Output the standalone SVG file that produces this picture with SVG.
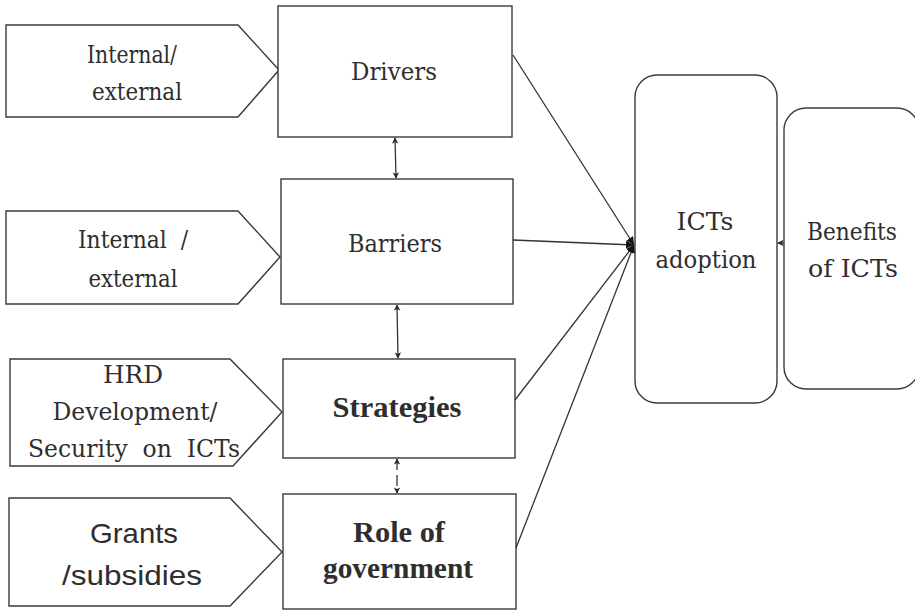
<svg xmlns="http://www.w3.org/2000/svg" width="915" height="611" viewBox="0 0 915 611">
  <style>
    .shape { fill: #ffffff; stroke: #3a3a3a; stroke-width: 1.4; }
    .link { fill: none; stroke: #333333; stroke-width: 1.3; }
    text { fill: #2e2e2e; text-anchor: middle; }
    .old { font-family: "DejaVu Serif", serif; font-size: 25px; }
    .roman { font-family: "DejaVu Serif", serif; font-size: 25px; }
    .heavy { font-family: "Liberation Serif", "Times New Roman", serif; font-weight: bold; font-size: 30px; }
    .plain { font-family: "Liberation Sans", Arial, sans-serif; font-size: 28px; }
  </style>
  <defs>
    <marker id="head" viewBox="0 0 10 10" refX="10" refY="5" markerWidth="8" markerHeight="8" orient="auto-start-reverse" markerUnits="userSpaceOnUse">
      <path d="M0,0 L10,5 L0,10 z" fill="#111"/>
    </marker>
    <marker id="tip" viewBox="0 0 10 10" refX="9" refY="5" markerWidth="8" markerHeight="8" orient="auto-start-reverse" markerUnits="userSpaceOnUse">
      <path d="M2,1 L10,5 L2,9 L4,5 z" fill="#2a2a2a"/>
    </marker>
  </defs>

  <rect width="915" height="611" fill="#ffffff"/>

  <!-- factor labels (pentagon tags on the left) -->
  <g id="tag-drivers">
    <polygon class="shape" points="6,25 238,25 279,70 238,117 6,117"/>
    <text class="old" x="132" y="63" textLength="90" lengthAdjust="spacingAndGlyphs">Internal/</text>
    <text class="old" x="137" y="100" textLength="90" lengthAdjust="spacingAndGlyphs">external</text>
  </g>
  <g id="tag-barriers">
    <polygon class="shape" points="6,211 238,211 280,257 238,304 6,304"/>
    <text class="old" x="133" y="248" textLength="110" lengthAdjust="spacingAndGlyphs" xml:space="preserve">Internal  /</text>
    <text class="old" x="133" y="287" textLength="89" lengthAdjust="spacingAndGlyphs">external</text>
  </g>
  <g id="tag-strategies">
    <polygon class="shape" points="10,359 230,359 282,412 233,466 10,466"/>
    <text class="roman" x="133" y="383" textLength="60" lengthAdjust="spacingAndGlyphs">HRD</text>
    <text class="roman" x="135" y="420" textLength="165" lengthAdjust="spacingAndGlyphs">Development/</text>
    <text class="roman" x="134" y="457" textLength="212" lengthAdjust="spacingAndGlyphs" xml:space="preserve">Security  on  ICTs</text>
  </g>
  <g id="tag-government">
    <polygon class="shape" points="9,498 230,498 282,552 230,606 9,606"/>
    <text class="plain" x="134" y="543" textLength="88" lengthAdjust="spacingAndGlyphs">Grants</text>
    <text class="plain" x="132" y="585" textLength="140" lengthAdjust="spacingAndGlyphs">/subsidies</text>
  </g>

  <!-- factor boxes -->
  <g id="drivers">
    <rect class="shape" x="278" y="6" width="234" height="131"/>
    <text class="old" x="394" y="80" textLength="86" lengthAdjust="spacingAndGlyphs">Drivers</text>
  </g>
  <g id="barriers">
    <rect class="shape" x="281" y="179" width="232" height="125"/>
    <text class="old" x="395" y="252" textLength="94" lengthAdjust="spacingAndGlyphs">Barriers</text>
  </g>
  <g id="strategies">
    <rect class="shape" x="283" y="359" width="232" height="99"/>
    <text class="heavy" x="397" y="417" textLength="129" lengthAdjust="spacingAndGlyphs">Strategies</text>
  </g>
  <g id="government">
    <rect class="shape" x="283" y="494" width="233" height="115"/>
    <text class="heavy" x="399" y="542" textLength="92" lengthAdjust="spacingAndGlyphs">Role of</text>
    <text class="heavy" x="398" y="578" textLength="150" lengthAdjust="spacingAndGlyphs">government</text>
  </g>

  <!-- outcome boxes -->
  <g id="adoption">
    <rect class="shape" x="635" y="75" width="142" height="328" rx="22" ry="22"/>
    <text class="old" x="705" y="230" textLength="57" lengthAdjust="spacingAndGlyphs">ICTs</text>
    <text class="old" x="706" y="268" textLength="101" lengthAdjust="spacingAndGlyphs">adoption</text>
  </g>
  <g id="benefits">
    <rect class="shape" x="784" y="108" width="135" height="281" rx="22" ry="22"/>
    <text class="old" x="852" y="240" textLength="90" lengthAdjust="spacingAndGlyphs">Benefits</text>
    <text class="old" x="853" y="277" textLength="90" lengthAdjust="spacingAndGlyphs">of ICTs</text>
  </g>

  <!-- connectors -->
  <g id="connectors">
    <line class="link" x1="513" y1="55" x2="634" y2="245" marker-end="url(#head)"/>
    <line class="link" x1="513" y1="240" x2="634" y2="245" marker-end="url(#head)"/>
    <line class="link" x1="515" y1="400" x2="634" y2="245" marker-end="url(#head)"/>
    <line class="link" x1="516" y1="548" x2="634" y2="245" marker-end="url(#head)"/>
    <line class="link" x1="395" y1="138" x2="396" y2="178" marker-start="url(#tip)" marker-end="url(#tip)"/>
    <line class="link" x1="397" y1="305" x2="398" y2="358" marker-start="url(#tip)" marker-end="url(#tip)"/>
    <line class="link" x1="397" y1="459" x2="397" y2="493" stroke-dasharray="11,5" marker-start="url(#tip)" marker-end="url(#tip)"/>
    <line class="link" x1="784" y1="243" x2="778" y2="243" marker-end="url(#tip)"/>
  </g>
</svg>
